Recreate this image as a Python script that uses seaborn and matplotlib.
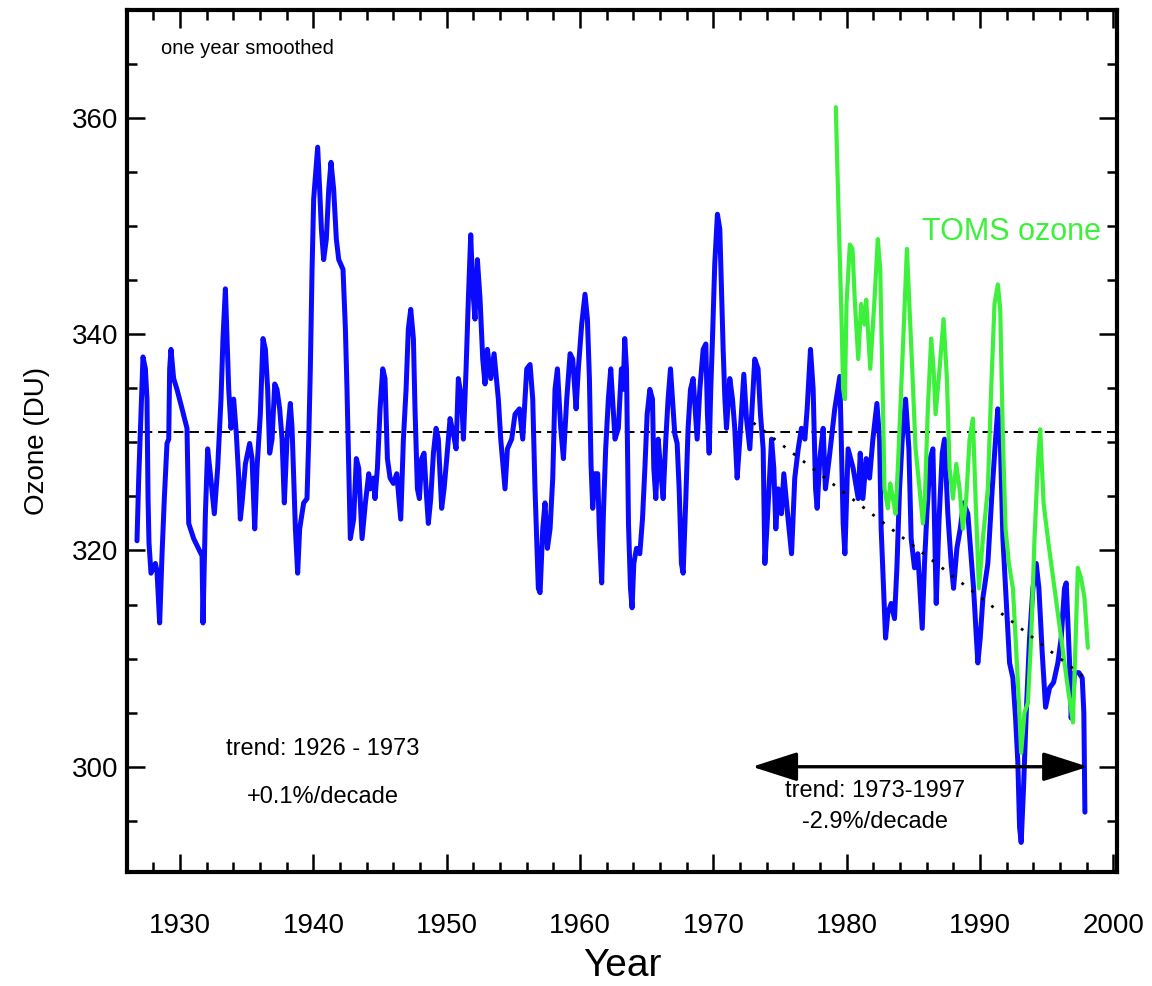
import numpy as np
import pandas as pd
import matplotlib
matplotlib.use("Agg")
import matplotlib.pyplot as plt
import seaborn as sns
from matplotlib.ticker import MultipleLocator

# ground station ozone, one year smoothed
station_year = [
    1926.77, 1926.90, 1927.22, 1927.40, 1927.52, 1927.60, 1927.67, 1927.82, 1928.15, 1928.27,
    1928.47, 1928.65, 1928.82, 1929.02, 1929.15, 1929.22, 1929.32, 1929.52, 1929.77, 1930.15,
    1930.52, 1930.65, 1931.02, 1931.65, 1931.72, 1931.90, 1932.07, 1932.27, 1932.57, 1932.82,
    1933.07, 1933.22, 1933.40, 1933.52, 1933.65, 1933.82, 1934.02, 1934.22, 1934.40, 1934.52,
    1934.65, 1934.90, 1935.22, 1935.40, 1935.60, 1935.77, 1936.02, 1936.22, 1936.40, 1936.57,
    1936.72, 1936.90, 1937.10, 1937.27, 1937.47, 1937.65, 1937.82, 1938.02, 1938.27, 1938.40,
    1938.52, 1938.65, 1938.82, 1938.97, 1939.27, 1939.52, 1939.65, 1939.77, 1939.90, 1940.02,
    1940.32, 1940.47, 1940.60, 1940.77, 1940.97, 1941.15, 1941.32, 1941.52, 1941.72, 1941.90,
    1942.22, 1942.40, 1942.52, 1942.65, 1942.77, 1943.02, 1943.22, 1943.40, 1943.65, 1943.90,
    1944.15, 1944.25, 1944.50, 1944.62, 1944.80, 1945.00, 1945.20, 1945.37, 1945.55, 1945.75,
    1946.00, 1946.25, 1946.55, 1946.75, 1946.95, 1947.12, 1947.30, 1947.50, 1947.62, 1947.80,
    1947.95, 1948.12, 1948.30, 1948.45, 1948.62, 1948.80, 1949.00, 1949.20, 1949.37, 1949.62,
    1949.80, 1950.00, 1950.25, 1950.50, 1950.70, 1950.87, 1951.12, 1951.25, 1951.45, 1951.62,
    1951.80, 1951.95, 1952.12, 1952.30, 1952.50, 1952.70, 1952.87, 1953.05, 1953.30, 1953.55,
    1953.87, 1954.05, 1954.37, 1954.55, 1954.87, 1955.12, 1955.45, 1955.70, 1956.00, 1956.25,
    1956.45, 1956.62, 1956.87, 1957.00, 1957.20, 1957.37, 1957.55, 1957.75, 1957.95, 1958.12,
    1958.30, 1958.55, 1958.75, 1959.00, 1959.25, 1959.45, 1959.70, 1959.87, 1960.12, 1960.37,
    1960.55, 1960.70, 1960.82, 1960.95, 1961.12, 1961.32, 1961.45, 1961.62, 1961.75, 1961.92,
    1962.12, 1962.30, 1962.62, 1962.87, 1963.10, 1963.23, 1963.35, 1963.48, 1963.55, 1963.63,
    1963.78, 1963.90, 1964.03, 1964.23, 1964.48, 1964.68, 1964.86, 1965.03, 1965.23, 1965.43,
    1965.53, 1965.68, 1965.86, 1966.03, 1966.23, 1966.43, 1966.60, 1966.78, 1966.93, 1967.10,
    1967.28, 1967.43, 1967.60, 1967.73, 1967.93, 1968.10, 1968.28, 1968.48, 1968.68, 1968.78,
    1968.98, 1969.23, 1969.43, 1969.55, 1969.68, 1969.80, 1969.93, 1970.10, 1970.30, 1970.48,
    1970.60, 1970.73, 1970.86, 1970.98, 1971.23, 1971.43, 1971.60, 1971.78, 1971.98, 1972.28,
    1972.48, 1972.73, 1973.10, 1973.35, 1973.53, 1973.73, 1973.86, 1974.03, 1974.36, 1974.53,
    1974.68, 1974.86, 1975.10, 1975.28, 1975.60, 1975.86, 1976.10, 1976.36, 1976.60, 1976.86,
    1977.03, 1977.28, 1977.48, 1977.66, 1977.78, 1977.98, 1978.23, 1978.40, 1978.68, 1979.10,
    1979.48, 1979.73, 1979.86, 1980.10, 1980.48, 1980.86, 1981.01, 1981.21, 1981.46, 1981.71,
    1981.96, 1982.26, 1982.46, 1982.58, 1982.76, 1982.91, 1983.08, 1983.33, 1983.58, 1983.76,
    1983.96, 1984.16, 1984.41, 1984.66, 1984.83, 1985.08, 1985.33, 1985.66, 1985.83, 1986.01,
    1986.26, 1986.46, 1986.71, 1986.91, 1987.16, 1987.33, 1987.58, 1987.83, 1988.01, 1988.26,
    1988.51, 1988.76, 1989.08, 1989.51, 1989.83, 1990.01, 1990.21, 1990.58, 1990.91, 1991.16,
    1991.33, 1991.51, 1991.71, 1991.91, 1992.21, 1992.46, 1992.66, 1992.83, 1992.96, 1993.08,
    1993.26, 1993.46, 1993.71, 1993.96, 1994.21, 1994.41, 1994.66, 1994.91, 1995.21, 1995.51,
    1995.83, 1996.08, 1996.33, 1996.46, 1996.71, 1996.83, 1997.08, 1997.41, 1997.66, 1997.78,
    1997.86,
]
station_ozone = [
    320.9, 326.7, 337.9, 336.8, 334.0, 324.8, 320.7, 317.9, 318.8, 318.1,
    313.3, 319.7, 324.8, 329.9, 330.3, 336.8, 338.6, 335.9, 334.9, 333.1,
    331.3, 322.5, 321.1, 319.5, 313.3, 323.4, 329.4, 327.1, 323.4, 327.6,
    334.0, 339.6, 344.2, 339.6, 334.9, 331.3, 334.0, 330.8, 326.7, 322.9,
    324.4, 328.0, 329.9, 328.5, 322.0, 327.6, 332.6, 339.6, 338.6, 334.9,
    329.0, 330.3, 335.4, 334.9, 333.1, 330.3, 324.4, 330.3, 333.6, 331.3,
    326.7, 322.0, 317.9, 322.0, 324.4, 324.8, 330.3, 336.8, 346.0, 352.5,
    357.3, 353.4, 349.7, 346.9, 348.8, 353.4, 355.9, 353.4, 348.8, 346.9,
    346.0, 340.5, 334.9, 327.6, 321.1, 322.9, 328.5, 327.6, 321.1, 324.4,
    327.1, 325.7, 326.7, 324.8, 327.6, 333.1, 336.8, 335.9, 328.5, 326.7,
    326.2, 327.1, 322.9, 330.3, 334.9, 340.5, 342.3, 339.6, 333.1, 325.7,
    324.8, 328.5, 329.0, 325.7, 322.5, 324.8, 329.0, 331.3, 330.3, 323.9,
    325.7, 328.5, 332.2, 330.8, 329.4, 335.9, 334.0, 330.3, 336.8, 343.2,
    349.2, 344.2, 341.4, 346.9, 343.2, 337.7, 335.4, 338.6, 335.9, 338.2,
    334.0, 330.3, 325.7, 329.4, 330.3, 332.6, 333.1, 330.3, 336.8, 337.2,
    334.0, 325.7, 316.5, 316.1, 322.0, 324.4, 320.2, 322.0, 326.7, 334.9,
    336.8, 331.3, 328.5, 334.0, 338.2, 337.7, 333.1, 336.8, 340.9, 343.7,
    341.4, 335.9, 328.0, 323.9, 327.1, 327.1, 321.6, 317.0, 323.4, 329.4,
    334.0, 336.8, 330.3, 331.3, 336.8, 334.9, 339.6, 336.8, 330.3, 322.5,
    316.5, 314.7, 318.8, 320.2, 319.7, 322.9, 327.6, 332.6, 334.9, 334.0,
    327.6, 324.8, 330.3, 327.6, 324.8, 330.3, 334.0, 336.8, 334.0, 330.8,
    329.9, 325.7, 318.8, 317.9, 324.8, 331.3, 334.9, 335.9, 332.2, 330.3,
    334.9, 338.6, 339.1, 332.6, 329.0, 334.9, 339.6, 346.5, 351.1, 349.7,
    344.2, 338.6, 334.0, 331.3, 335.9, 334.0, 331.3, 326.7, 330.3, 336.3,
    332.2, 329.4, 337.7, 336.8, 332.6, 329.4, 318.8, 322.5, 330.3, 327.6,
    322.0, 325.7, 323.4, 327.1, 322.9, 319.7, 326.7, 329.4, 331.3, 330.3,
    333.1, 338.6, 334.9, 325.7, 323.9, 328.5, 331.3, 325.7, 328.5, 333.1,
    336.1, 322.5, 319.7, 329.4, 327.6, 324.8, 329.0, 324.8, 328.5, 326.7,
    330.3, 333.6, 330.3, 322.0, 316.5, 311.9, 314.2, 315.1, 313.7, 318.4,
    325.7, 330.3, 334.0, 329.4, 321.1, 318.4, 319.7, 312.8, 318.8, 323.4,
    328.5, 329.4, 315.1, 322.5, 329.0, 330.3, 323.4, 318.8, 316.5, 320.2,
    322.0, 324.4, 323.4, 316.5, 309.6, 311.9, 315.6, 318.8, 325.7, 330.3,
    333.1, 330.3, 321.1, 316.5, 309.6, 308.2, 304.5, 300.4, 294.4, 293.0,
    298.1, 305.0, 311.9, 316.5, 318.8, 316.5, 310.5, 305.5, 307.3, 307.8,
    309.6, 311.9, 316.5, 317.0, 309.6, 304.5, 308.7, 308.7, 308.2, 305.0,
    295.8,
]

# TOMS satellite ozone
toms_year = [
    1979.18, 1979.28, 1979.43, 1979.60, 1979.73, 1979.86, 1979.98, 1980.23, 1980.43, 1980.60,
    1980.86, 1981.08, 1981.33, 1981.46, 1981.76, 1982.08, 1982.33, 1982.51, 1982.66, 1982.83,
    1983.08, 1983.26, 1983.46, 1983.66, 1983.83, 1984.08, 1984.33, 1984.51, 1984.71, 1984.91,
    1985.16, 1985.46, 1985.71, 1985.86, 1986.08, 1986.33, 1986.51, 1986.66, 1986.96, 1987.26,
    1987.51, 1987.71, 1987.96, 1988.21, 1988.46, 1988.71, 1988.96, 1989.21, 1989.46, 1989.66,
    1989.91, 1990.21, 1990.58, 1990.83, 1991.08, 1991.33, 1991.51, 1991.71, 1991.91, 1992.16,
    1992.46, 1992.66, 1992.91, 1993.08, 1993.33, 1993.58, 1993.83, 1994.08, 1994.33, 1994.51,
    1994.76, 1995.08, 1995.58, 1996.08, 1996.58, 1996.96, 1997.11, 1997.33, 1997.58, 1997.83,
    1998.08,
]
toms_ozone = [
    361.0, 356.1, 349.2, 341.8, 334.9, 334.0, 342.8, 348.3, 347.9, 343.2,
    337.7, 342.8, 340.9, 343.2, 336.8, 343.2, 348.8, 346.0, 336.8, 325.7,
    323.9, 326.2, 324.8, 323.4, 327.6, 334.9, 342.3, 347.9, 342.3, 336.8,
    329.4, 325.7, 322.5, 324.8, 333.1, 339.6, 336.8, 332.6, 336.8, 341.4,
    335.9, 327.6, 324.8, 328.0, 325.7, 322.0, 324.8, 330.3, 332.2, 324.8,
    316.5, 321.1, 325.7, 334.9, 342.8, 344.6, 342.3, 330.3, 322.0, 318.8,
    316.5, 311.9, 305.9, 301.3, 305.0, 305.9, 311.9, 321.1, 328.0, 331.2,
    324.4, 321.1, 316.5, 311.9, 307.3, 304.1, 309.6, 318.4, 317.4, 315.6,
    311.0,
]

mean_ozone = 331.0
trend_years = [1973.0, 1997.8]
trend_ozone = [331.8, 308.3]
arrow_years = [1972.9, 1998.1]
arrow_level = 300.0

station = pd.DataFrame({"year": station_year, "ozone": station_ozone})
toms = pd.DataFrame({"year": toms_year, "ozone": toms_ozone})

sns.set_style("ticks")
plt.rcParams["font.family"] = ["Liberation Sans", "DejaVu Sans"]
plt.rcParams.update({"text.color": "black", "axes.labelcolor": "black",
                     "xtick.color": "black", "ytick.color": "black",
                     "axes.edgecolor": "black"})

fig = plt.figure(figsize=(11.52, 9.86), dpi=100)
ax = fig.add_axes([0.110, 0.116, 0.860, 0.874])

ax.axhline(mean_ozone, color="black", lw=1.4, ls=(0, (5, 3)), zorder=1)
sns.lineplot(data=station, x="year", y="ozone", color="#0a0aff", lw=3.6,
             estimator=None, sort=False, ax=ax, zorder=2)
sns.lineplot(data=toms, x="year", y="ozone", color="#3cf03c", lw=3.0,
             estimator=None, sort=False, ax=ax, zorder=3)
ax.plot(trend_years, trend_ozone, color="black", lw=2.0, ls=(0, (1, 3.5)), zorder=4)

ax.annotate("", xy=(arrow_years[0], arrow_level), xytext=(arrow_years[1], arrow_level),
            arrowprops=dict(arrowstyle="<|-|>,head_length=1.4,head_width=0.45",
                            color="black", lw=2.4, mutation_scale=20, shrinkA=0, shrinkB=0),
            zorder=5)

ax.set_xlim(1926, 2000.3)
ax.set_ylim(290.3, 370)
ax.xaxis.set_major_locator(MultipleLocator(10))
ax.xaxis.set_minor_locator(MultipleLocator(2))
ax.yaxis.set_major_locator(MultipleLocator(20))
ax.yaxis.set_minor_locator(MultipleLocator(5))
ax.tick_params(which="both", direction="in", top=True, right=True, width=1.8, labelsize=20)
ax.tick_params(which="major", length=13)
ax.tick_params(which="minor", length=7)
ax.tick_params(axis="x", which="major", pad=30)
ax.tick_params(axis="y", which="major", pad=6)
for sp in ax.spines.values():
    sp.set_linewidth(3.0)
    sp.set_visible(True)

ax.set_xlabel("Year", fontsize=28, labelpad=6)
ax.set_ylabel("Ozone (DU)", fontsize=20, labelpad=16)

ax.text(0.035, 0.966, "one year smoothed", transform=ax.transAxes, fontsize=14.5,
        ha="left", va="top")
ax.text(0.983, 0.742, "TOMS ozone", transform=ax.transAxes, fontsize=22,
        color="#3cf03c", ha="right", va="center")
ax.text(0.198, 0.142, "trend: 1926 - 1973", transform=ax.transAxes, fontsize=17,
        ha="center", va="center")
ax.text(0.198, 0.087, "+0.1%/decade", transform=ax.transAxes, fontsize=17,
        ha="center", va="center")
ax.text(0.755, 0.093, "trend: 1973-1997", transform=ax.transAxes, fontsize=17,
        ha="center", va="center")
ax.text(0.755, 0.058, "-2.9%/decade", transform=ax.transAxes, fontsize=17,
        ha="center", va="center")

fig.savefig("out.png", dpi=100)
